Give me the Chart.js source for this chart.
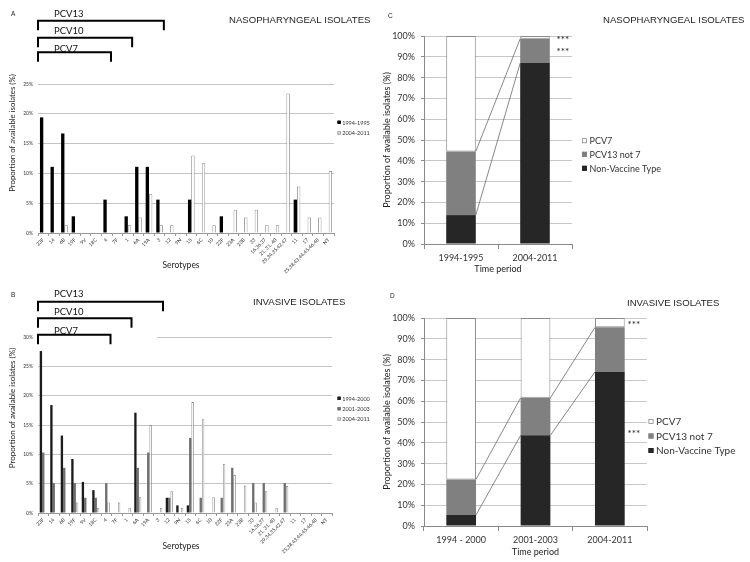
<!DOCTYPE html>
<html>
<head>
<meta charset="utf-8">
<script src="https://cdn.jsdelivr.net/npm/chart.js@4.4.1/dist/chart.umd.min.js"></script>
<style>
  body { margin: 0; background: #fff; }
  #wrap { position: relative; width: 750px; height: 562px; overflow: hidden; background: #fff; }
  canvas { position: absolute; }
</style>
</head>
<body>
<div id="wrap">
  <canvas id="cA" width="375" height="280" style="left:0;top:0"></canvas>
  <canvas id="cB" width="375" height="282" style="left:0;top:280px"></canvas>
  <canvas id="cC" width="375" height="280" style="left:375px;top:0"></canvas>
  <canvas id="cD" width="375" height="282" style="left:375px;top:280px"></canvas>
</div>
<script>
// serotype categories (panels A and B)
const serotypes = ["23F","14","6B","19F","9V","18C","4","7F","1","6A","19A","3","12","9N","15","6C","10","22F","23A","23B","33","16,36,37","21, 31, 40","29,34,35,42,47","11","17","25,38,43,44,45,46,48","NT"];

// A - nasopharyngeal isolates (%)
const naso1994 = [19.4,11.1,16.7,2.8,0,0,5.6,0,2.8,11.1,11.1,5.6,0,0,5.6,0,0,2.8,0,0,0,0,0,0,5.6,0,0,0];
const naso2004 = [0,0,1.3,0,0,0,0,0,1.3,2.6,6.5,1.3,1.3,0,13.0,11.7,1.3,0,3.9,2.6,3.9,1.3,1.3,23.4,7.8,2.6,2.6,10.4];

// B - invasive isolates (%)
const inv1994 = [27.6,18.4,13.2,9.2,5.3,3.9,0,0,0,17.1,0,0,2.6,1.3,1.3,0,0,0,0,0,0,0,0,0,0,0,0,0];
const inv2001 = [10.3,5.1,7.7,5.1,2.6,2.6,5.1,0,0,7.7,10.3,0,2.6,0,12.8,2.6,0,2.6,7.7,0,5.1,5.1,0,5.1,0,0,0,0];
const inv2004 = [0,0,0,1.8,0,0.9,1.8,1.8,0.9,2.7,15.0,0.9,3.7,0.9,18.9,16.0,2.7,8.4,6.5,4.7,1.8,3.7,0.9,4.6,0,0,0,0];

// vaccine brackets: last serotype covered by each
const vaccines = [["PCV13","3"],["PCV10","1"],["PCV7","4"]];

// C - nasopharyngeal by period (%)
const periodsC = ["1994-1995","2004-2011"];
const nvtC = [13.9, 87.0];
const pcv13C = [30.6, 11.7];
const pcv7C = [55.5, 1.3];

// D - invasive by period (%)
const periodsD = ["1994 - 2000","2001-2003","2004-2011"];
const nvtD = [5.3, 43.6, 74.1];
const pcv13D = [17.1, 18.0, 21.4];
const pcv7D = [77.6, 38.4, 4.5];

const SANS = "Lato";
const ARIAL = "'Liberation Sans', Arial";

function txt(ctx, s, x, y, font, align, color, rot) {
  ctx.save();
  ctx.font = font;
  ctx.fillStyle = color || "#222";
  ctx.textAlign = align || "left";
  ctx.textBaseline = "alphabetic";
  if (rot) {
    ctx.translate(x, y);
    ctx.rotate(rot);
    ctx.fillText(s, 0, 0);
  } else {
    ctx.fillText(s, x, y);
  }
  ctx.restore();
}

function drawBrackets(chart, rows) {
  const ctx = chart.ctx, x = chart.scales.x;
  const half = (x.getPixelForValue(1) - x.getPixelForValue(0)) / 2;
  const left = x.getPixelForValue(0) - half;
  ctx.save();
  ctx.strokeStyle = "#000";
  ctx.lineWidth = 2;
  vaccines.forEach(([name, last], i) => {
    const r = rows[i];
    const right = x.getPixelForValue(serotypes.indexOf(last)) + half - 1;
    ctx.beginPath();
    ctx.moveTo(left, r.y + 9.5);
    ctx.lineTo(left, r.y);
    ctx.lineTo(right, r.y);
    ctx.lineTo(right, r.y + 9.5);
    ctx.stroke();
    txt(ctx, name, 54, r.ty, "9.5px " + SANS, "left", "#111");
  });
  ctx.restore();
}

function drawLegend(chart, items, x, ys, box, font, gap) {
  const ctx = chart.ctx;
  items.forEach((ds, i) => {
    ctx.save();
    ctx.fillStyle = ds.backgroundColor;
    ctx.strokeStyle = ds.borderColor || ds.backgroundColor;
    ctx.lineWidth = 0.8;
    ctx.fillRect(x, ys[i] - box / 2, box, box);
    ctx.strokeRect(x + 0.4, ys[i] - box / 2 + 0.4, box - 0.8, box - 0.8);
    ctx.restore();
    ctx.save();
    ctx.font = font;
    ctx.fillStyle = "#333";
    ctx.textBaseline = "middle";
    ctx.fillText(ds.label, x + box + gap, ys[i] + 0.5);
    ctx.restore();
  });
}

function drawConnectors(chart) {
  const ctx = chart.ctx;
  ctx.save();
  ctx.strokeStyle = "#555";
  ctx.lineWidth = 0.7;
  [0, 1].forEach(k => {
    const bars = chart.getDatasetMeta(k).data;
    for (let j = 0; j < bars.length - 1; j++) {
      const a = bars[j], b = bars[j + 1];
      ctx.beginPath();
      ctx.moveTo(a.x + a.width / 2, a.y);
      ctx.lineTo(b.x - b.width / 2, b.y);
      ctx.stroke();
    }
  });
  ctx.restore();
}

function serotypeChart(id, datasets, yMax, pad, xHeight, catPct, before, after) {
  return new Chart(document.getElementById(id), {
    type: "bar",
    data: { labels: serotypes, datasets },
    options: {
      responsive: false,
      animation: false,
      devicePixelRatio: 1,
      layout: { padding: pad },
      datasets: { bar: { categoryPercentage: catPct, barPercentage: 1 } },
      plugins: { legend: { display: false }, tooltip: { enabled: false } },
      scales: {
        x: {
          grid: { offset: true, drawOnChartArea: false, tickLength: 3, color: "#999" },
          border: { color: "#999" },
          ticks: { autoSkip: false, minRotation: 45, maxRotation: 45, padding: 1, color: "#333", font: { family: SANS, size: 5 } },
          afterFit: s => { s.height = xHeight; }
        },
        y: {
          min: 0, max: yMax,
          ticks: { stepSize: 5, padding: 5, color: "#333", font: { family: SANS, size: 5 }, callback: v => v + "%" },
          grid: { color: "#c4c4c4", drawTicks: false },
          border: { display: false },
          afterFit: s => { s.width = 38; }
        }
      }
    },
    plugins: [{ id: "extras_" + id, beforeDatasetsDraw: before, afterDraw: after }]
  });
}

// ---------- A ----------
serotypeChart("cA", [
  { label: "1994-1995", data: naso1994, backgroundColor: "#000", borderColor: "#000", borderWidth: 0 },
  { label: "2004-2011", data: naso2004, backgroundColor: "#fff", borderColor: "#777", borderWidth: 0.8, borderSkipped: "start" }
], 25, { left: 0, right: 41, top: 84, bottom: 0 }, 47, 0.63, null, chart => {
  const ctx = chart.ctx;
  txt(ctx, "A", 11, 15.5, "6.5px " + ARIAL, "left", "#222");
  txt(ctx, "NASOPHARYNGEAL ISOLATES", 229, 22.7, "9.6px " + ARIAL, "left", "#222");
  drawBrackets(chart, [{ y: 20.7, ty: 16.7 }, { y: 37.7, ty: 33.5 }, { y: 52.3, ty: 52 }]);
  drawLegend(chart, chart.data.datasets, 337.5, [122.3, 133], 3.2, "5.5px " + SANS, 1.5);
  txt(ctx, "Proportion of available isolates (%)", 15, 133, "7.8px " + SANS, "center", "#222", -Math.PI / 2);
  txt(ctx, "Serotypes", 181, 268, "8.5px " + SANS, "center", "#222");
});

// ---------- B ----------
serotypeChart("cB", [
  { label: "1994-2000", data: inv1994, backgroundColor: "#1c1c1c", borderColor: "#1c1c1c", borderWidth: 0 },
  { label: "2001-2003", data: inv2001, backgroundColor: "#6f6f6f", borderColor: "#6f6f6f", borderWidth: 0 },
  { label: "2004-2011", data: inv2004, backgroundColor: "#fff", borderColor: "#7a7a7a", borderWidth: 0.8, borderSkipped: "start" }
], 30, { left: 0, right: 43, top: 57, bottom: 0 }, 49, 0.67, chart => {
  const ctx = chart.ctx;
  ctx.save();
  ctx.fillStyle = "#fff";
  ctx.fillRect(36, 50, 121, 13);
  ctx.restore();
}, chart => {
  const ctx = chart.ctx;
  txt(ctx, "B", 11, 17, "6.5px " + ARIAL, "left", "#222");
  txt(ctx, "INVASIVE ISOLATES", 253, 25, "9.6px " + ARIAL, "left", "#222");
  drawBrackets(chart, [{ y: 21.7, ty: 17.3 }, { y: 38.3, ty: 34.5 }, { y: 54.7, ty: 53.8 }]);
  drawLegend(chart, chart.data.datasets, 337.5, [118.3, 128.7, 139], 3.2, "5.5px " + SANS, 1.5);
  txt(ctx, "Proportion of available isolates (%)", 15, 128, "8px " + SANS, "center", "#222", -Math.PI / 2);
  txt(ctx, "Serotypes", 181, 269, "8.5px " + SANS, "center", "#222");
});

// ---------- C / D ----------
function periodChart(id, labels, nvt, pcv13, pcv7, pad, after) {
  return new Chart(document.getElementById(id), {
    type: "bar",
    data: {
      labels,
      datasets: [
        { label: "Non-Vaccine Type", data: nvt, backgroundColor: "#262626", borderColor: "#262626", borderWidth: 0 },
        { label: "PCV13 not 7", data: pcv13, backgroundColor: "#808080", borderColor: "#808080", borderWidth: 0 },
        { label: "PCV7", data: pcv7, backgroundColor: "#fff", borderColor: "#8a8a8a", borderWidth: 1, borderSkipped: false }
      ]
    },
    options: {
      responsive: false,
      animation: false,
      devicePixelRatio: 1,
      layout: { padding: pad },
      datasets: { bar: { categoryPercentage: 1, barPercentage: 0.4 } },
      plugins: { legend: { display: false }, tooltip: { enabled: false } },
      scales: {
        x: {
          stacked: true,
          grid: { offset: true, drawOnChartArea: false, tickLength: 5, color: "#8a8a8a" },
          border: { color: "#8a8a8a" },
          ticks: { padding: 4, color: "#333", font: { family: SANS, size: 9 } },
          afterFit: s => { s.height = 36; }
        },
        y: {
          stacked: true,
          min: 0, max: 100,
          ticks: { stepSize: 10, padding: 6, color: "#333", font: { family: SANS, size: 9 }, callback: v => v + "%" },
          grid: { color: "#c8c8c8", tickLength: 3, tickColor: "#8a8a8a" },
          border: { color: "#8a8a8a" },
          afterFit: s => { s.width = 49; }
        }
      }
    },
    plugins: [{ id: "extras_" + id, afterDatasetsDraw: drawConnectors, afterDraw: after }]
  });
}

periodChart("cC", periodsC, nvtC, pcv13C, pcv7C, { left: 0, right: 178, top: 36, bottom: 0 }, chart => {
  const ctx = chart.ctx, ds = chart.data.datasets;
  txt(ctx, "C", 13, 18, "6.5px " + ARIAL, "left", "#222");
  txt(ctx, "NASOPHARYNGEAL ISOLATES", 228, 22.7, "9.6px " + ARIAL, "left", "#222");
  txt(ctx, "Proportion of available isolates (%)", 14.5, 140, "9px " + SANS, "center", "#222", -Math.PI / 2);
  txt(ctx, "Time period", 123, 272, "9px " + SANS, "center", "#222");
  drawLegend(chart, [ds[2], ds[1], ds[0]], 207, [140.7, 154.3, 168.3], 5, "9px " + SANS, 2.5);
  txt(ctx, "***", 181.5, 43, "10px " + SANS, "left", "#222");
  txt(ctx, "***", 181.5, 55, "10px " + SANS, "left", "#222");
});

periodChart("cD", periodsD, nvtD, pcv13D, pcv7D, { left: 0, right: 103, top: 38, bottom: 0 }, chart => {
  const ctx = chart.ctx, ds = chart.data.datasets;
  txt(ctx, "D", 15, 18, "6.5px " + ARIAL, "left", "#222");
  txt(ctx, "INVASIVE ISOLATES", 252, 25.5, "9.6px " + ARIAL, "left", "#222");
  txt(ctx, "Proportion of available isolates (%)", 14.5, 142, "9px " + SANS, "center", "#222", -Math.PI / 2);
  txt(ctx, "Time period", 160.5, 275, "9px " + SANS, "center", "#222");
  drawLegend(chart, [ds[2], ds[1], ds[0]], 273.5, [141.5, 156, 170.5], 5, "10px " + SANS, 2.5);
  txt(ctx, "***", 252.5, 48, "10px " + SANS, "left", "#222");
  txt(ctx, "***", 252.5, 157, "10px " + SANS, "left", "#222");
});
</script>
</body>
</html>
